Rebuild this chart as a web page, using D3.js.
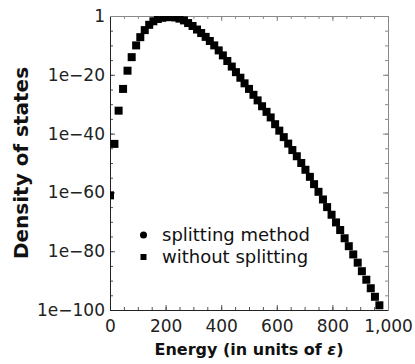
<!DOCTYPE html>
<html><head><meta charset="utf-8">
<script src="https://cdn.jsdelivr.net/npm/d3@7"></script>
<style>body{margin:0;background:#fff}svg{display:block}</style>
</head><body><svg id="c" width="415" height="364"></svg>
<script>
const energy = [0,16,31,47,63,78,94,109,125,141,156,172,188,203,219,234,250,266,281,297,313,328,344,359,375,391,406,422,438,453,469,484,500,516,531,547,563,578,594,609,625,641,656,672,688,703,719,734,750,766,781,797,813,828,844,859,875,891,906,922,938,953,969];
// log10 of density of states
const splittingLog10 = [-61,-43.5,-32.2,-24.8,-18.6,-14.0,-10.0,-7.2,-4.8,-3.0,-1.8,-1.0,-0.6,-0.4,-0.35,-0.5,-0.9,-1.5,-2.4,-3.4,-4.6,-5.8,-7.1,-8.5,-10.0,-11.7,-13.4,-15.3,-17.2,-19.1,-21.0,-22.9,-24.8,-26.8,-28.7,-30.7,-32.6,-34.5,-36.8,-39.0,-41.2,-43.4,-45.6,-47.7,-50.0,-52.3,-54.7,-57.2,-59.8,-62.4,-65.0,-67.6,-70.2,-72.8,-75.6,-78.3,-81.1,-83.9,-86.8,-89.7,-92.6,-95.5,-98.4];
const withoutLog10 = [-61,-43.5,-32.2,-24.8,-18.6,-14.0,-10.0,-7.2,-4.8,-3.0,-1.8,-1.0,-0.6,-0.4,-0.35,-0.5,-0.9,-1.5,-2.4,-3.4,-4.6,-5.8,-7.1,-8.5,-10.0,-11.7,-13.4,-15.3,-17.2,-19.1,-21.0,-22.9,-24.8,-26.8,-28.7,-30.7,-32.6,-34.5,-36.8,-39.0,-41.2,-43.4,-45.6,-47.7,-50.0,-52.3,-54.7,-57.2,-59.8,-62.4,-65.0,-67.6,-70.2,-72.8,-75.6,-78.3,-81.1,-83.9,-86.8,-89.7,-92.6,-95.5,-98.4];
const xTicks = [0,200,400,600,800,1000];
const xTickLabels = ["0","200","400","600","800","1,000"];
const yTickExp = [0,-20,-40,-60,-80,-100];
const yTickLabels = ["1","1e\u221220","1e\u221240","1e\u221260","1e\u221280","1e\u2212100"];
const seriesNames = ["splitting method","without splitting"];

const svg = d3.select("#c");
const L=110, R=388, T=16, B=310;
const x = d3.scaleLinear().domain([0,1000]).range([L,R]);
const y = d3.scaleLog().domain([1e-100,1]).range([B,T]);
const font = "'DejaVu Sans', sans-serif";

svg.append("defs").append("clipPath").attr("id","clip")
  .append("rect").attr("x",L).attr("y",T).attr("width",R-L).attr("height",B-T);

const xMinor = d3.range(0,1001,50);
const yMinor = d3.range(0,-101,-5).map(e=>Math.pow(10,e));
const yMajor = yTickExp.map(e=>Math.pow(10,e));

function styleAxis(g, col){
  g.select(".domain").remove();
  g.selectAll("line").attr("stroke",col).attr("stroke-width",1);
  g.selectAll("text").attr("font-family",font).attr("font-size",17).attr("fill","#222");
}
// minor ticks
const gm = svg.append("g");
styleAxis(gm.append("g").attr("transform",`translate(0,${B})`).call(d3.axisBottom(x).tickValues(xMinor).tickSize(-3).tickFormat("")),"#555");
styleAxis(gm.append("g").attr("transform",`translate(0,${T})`).call(d3.axisTop(x).tickValues(xMinor).tickSize(-3).tickFormat("")),"#888");
styleAxis(gm.append("g").attr("transform",`translate(${L},0)`).call(d3.axisLeft(y).tickValues(yMinor).tickSize(-3).tickFormat("")),"#555");
styleAxis(gm.append("g").attr("transform",`translate(${R},0)`).call(d3.axisRight(y).tickValues(yMinor).tickSize(-3).tickFormat("")),"#888");
// major ticks
styleAxis(svg.append("g").attr("transform",`translate(0,${B})`).call(d3.axisBottom(x).tickValues(xTicks).tickSizeInner(-5).tickSizeOuter(0).tickPadding(10).tickFormat((d,i)=>xTickLabels[i])),"#555");
styleAxis(svg.append("g").attr("transform",`translate(0,${T})`).call(d3.axisTop(x).tickValues(xTicks).tickSize(-5).tickFormat("")),"#888");
styleAxis(svg.append("g").attr("transform",`translate(${L},0)`).call(d3.axisLeft(y).tickValues(yMajor).tickSizeInner(-5).tickSizeOuter(0).tickPadding(5).tickFormat((d,i)=>yTickLabels[i])),"#555");
styleAxis(svg.append("g").attr("transform",`translate(${R},0)`).call(d3.axisRight(y).tickValues(yMajor).tickSize(-5).tickFormat("")),"#888");

// frame
svg.append("line").attr("x1",L+0.5).attr("x2",L+0.5).attr("y1",T).attr("y2",B+1).attr("stroke","#222");
svg.append("line").attr("x1",L).attr("x2",R+1).attr("y1",B+0.5).attr("y2",B+0.5).attr("stroke","#222");
svg.append("line").attr("x1",L).attr("x2",R+1).attr("y1",T+0.5).attr("y2",T+0.5).attr("stroke","#888");
svg.append("line").attr("x1",R+0.5).attr("x2",R+0.5).attr("y1",T).attr("y2",B+1).attr("stroke","#888");

// data
const n = Math.min(energy.length, splittingLog10.length, withoutLog10.length);
const d1 = d3.range(n).map(i=>({e:energy[i], v:Math.pow(10,splittingLog10[i])}));
const d2 = d3.range(n).map(i=>({e:energy[i], v:Math.pow(10,withoutLog10[i])}));
const pg = svg.append("g").attr("clip-path","url(#clip)");
pg.selectAll("circle").data(d1).join("circle")
  .attr("cx",d=>x(d.e)).attr("cy",d=>y(d.v)).attr("r",3).attr("fill","#000");
pg.selectAll("rect").data(d2).join("rect")
  .attr("x",d=>x(d.e)-4).attr("y",d=>y(d.v)-4).attr("width",8).attr("height",8).attr("fill","#000");

// legend
svg.append("circle").attr("cx",143.5).attr("cy",235).attr("r",3.5).attr("fill","#000");
svg.append("rect").attr("x",140.5).attr("y",254).attr("width",6).attr("height",6).attr("fill","#000");
svg.append("text").attr("x",162).attr("y",241).attr("font-family",font).attr("font-size",18).attr("fill","#111").text(seriesNames[0]);
svg.append("text").attr("x",162).attr("y",263).attr("font-family",font).attr("font-size",18).attr("fill","#111").text(seriesNames[1]);

// titles
const xt = svg.append("text").attr("x",(L+R)/2).attr("y",355).attr("text-anchor","middle")
  .attr("font-family",font).attr("font-size",16).attr("font-weight","bold").attr("fill","#111");
xt.append("tspan").text("Energy (in units of ");
xt.append("tspan").attr("font-style","italic").text("\u03b5");
xt.append("tspan").text(")");
svg.append("text").attr("transform",`translate(28,${(T+B)/2}) rotate(-90)`).attr("text-anchor","middle")
  .attr("font-family",font).attr("font-size",20).attr("font-weight","bold").attr("fill","#111")
  .text("Density of states");
</script></body></html>
